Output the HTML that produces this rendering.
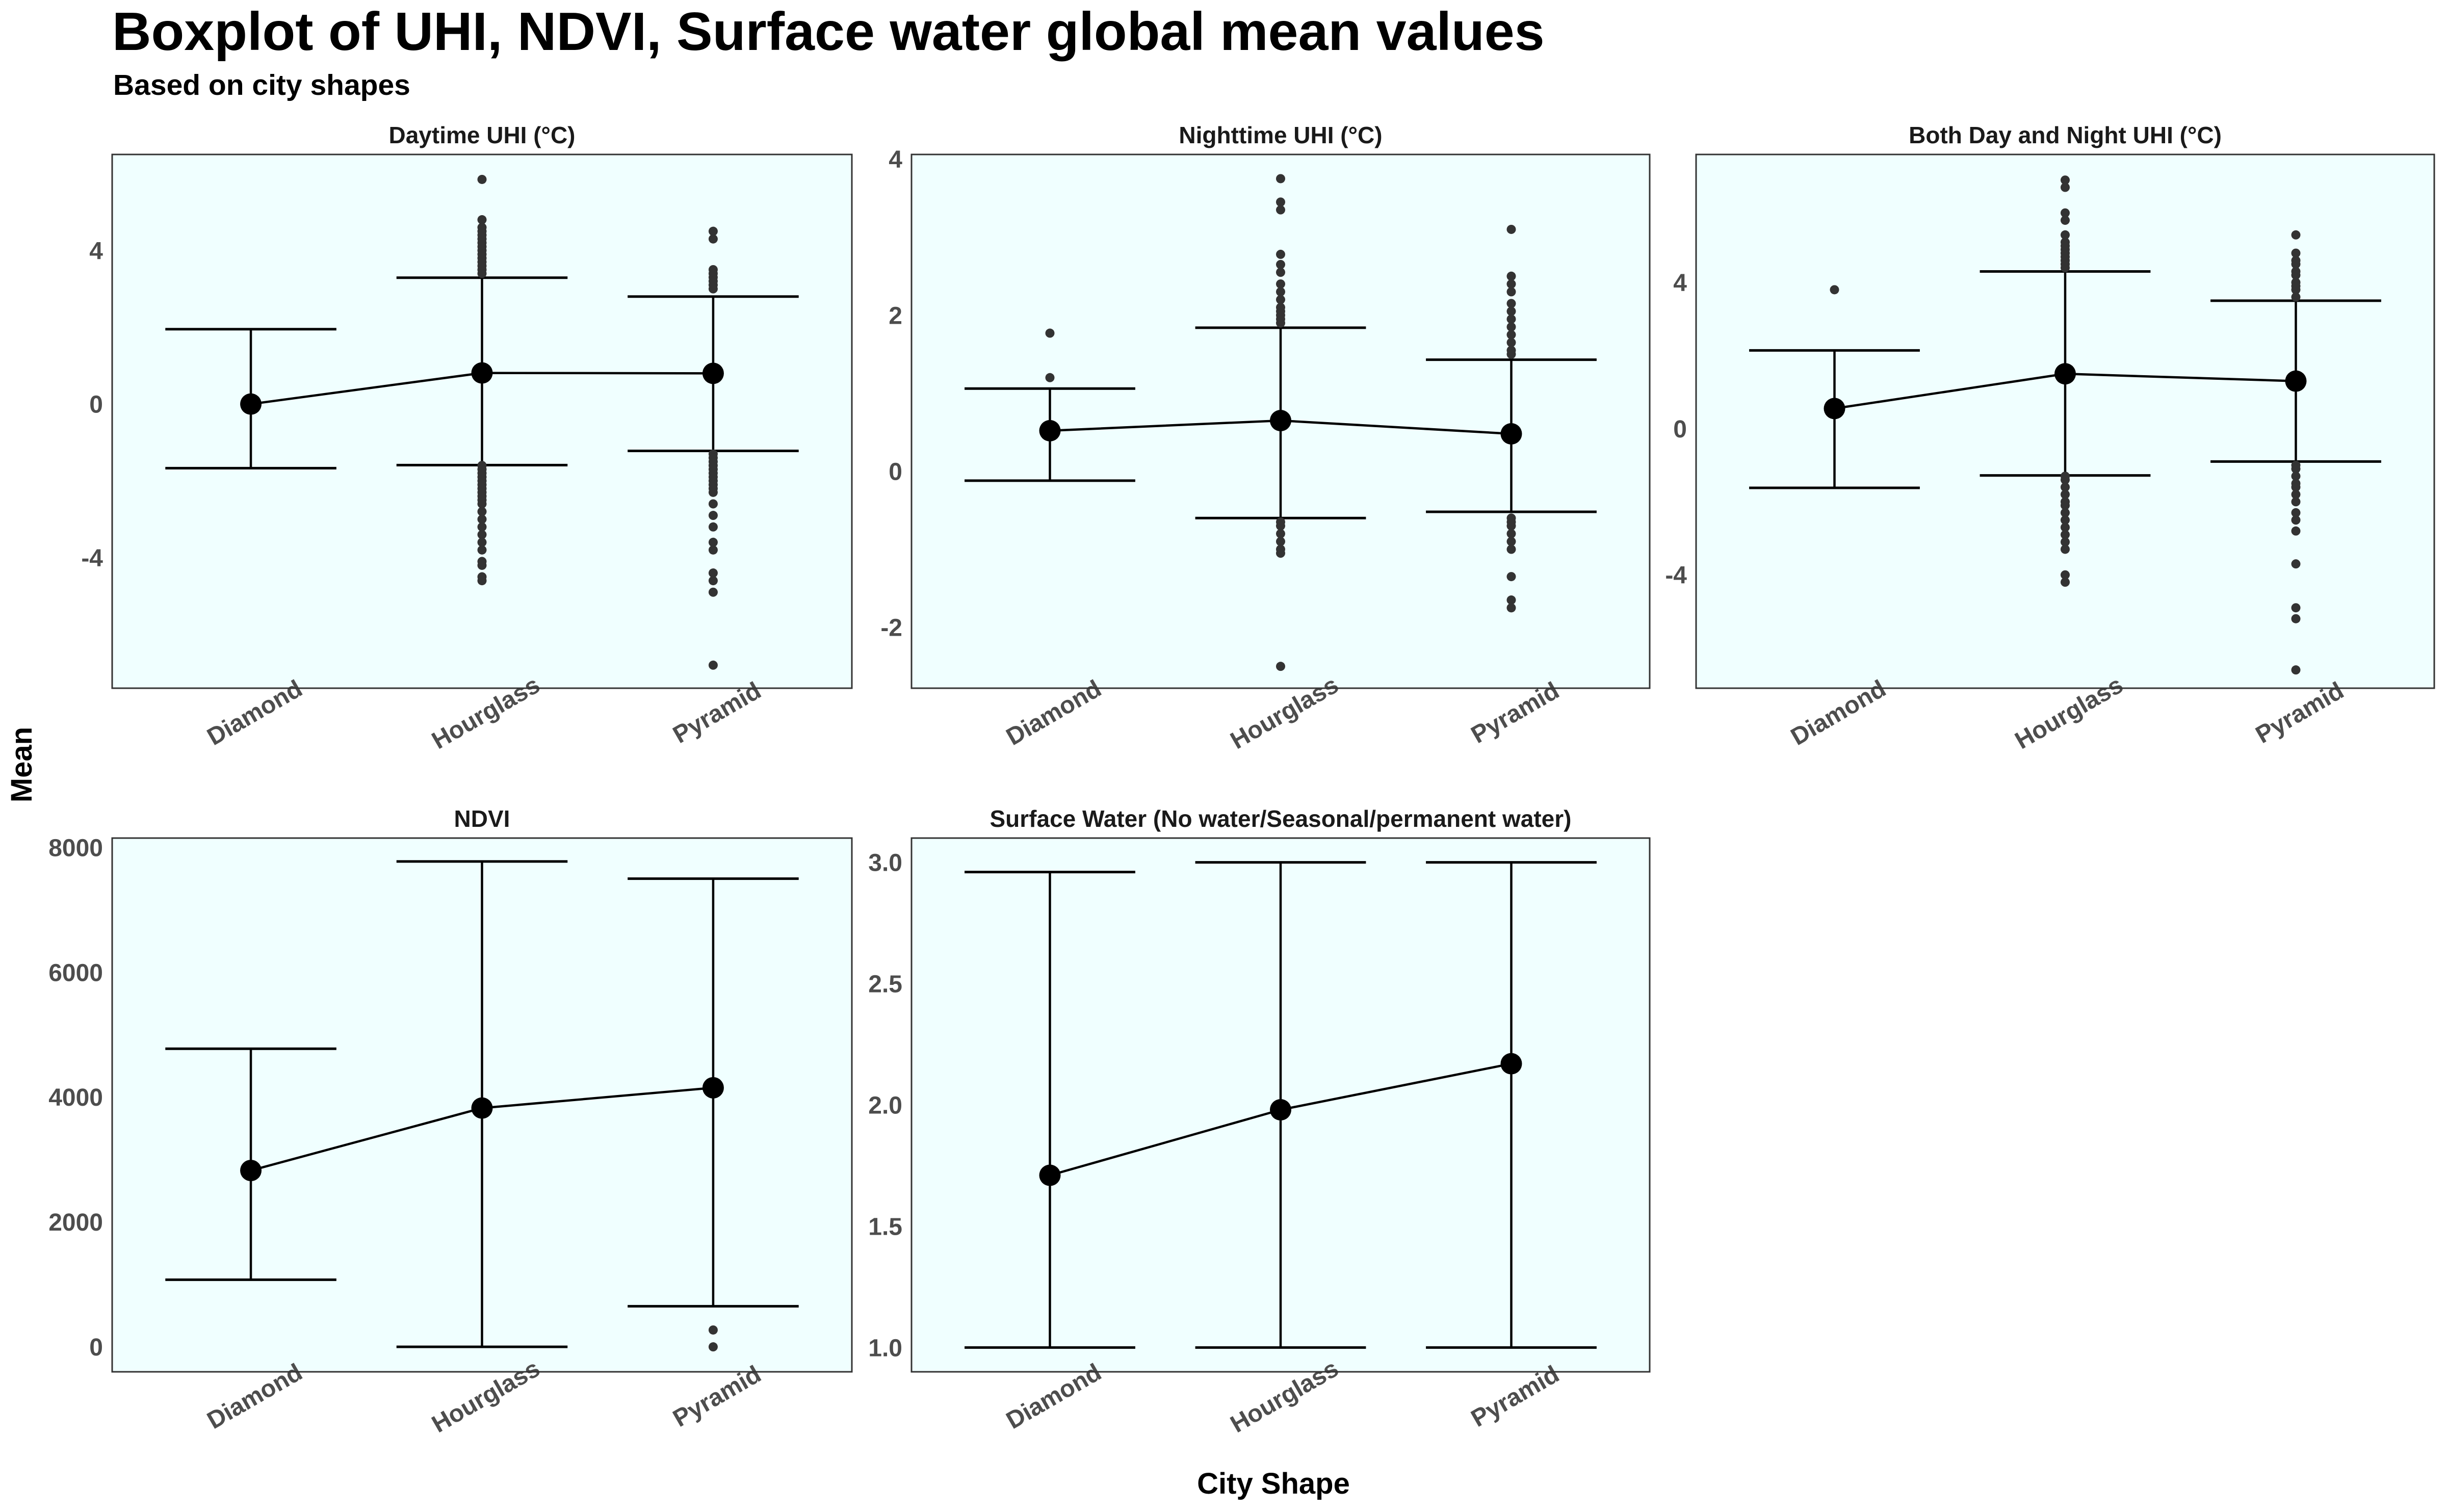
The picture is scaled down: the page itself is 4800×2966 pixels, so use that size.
<!DOCTYPE html>
<html><head><meta charset="utf-8"><style>
html,body{margin:0;padding:0;background:#fff;}
svg{display:block;font-family:"Liberation Sans",Arial,sans-serif;}
</style></head><body>
<svg id="chart" width="4800" height="2966" viewBox="0 0 4800 2966" xmlns="http://www.w3.org/2000/svg">
<text x="220" y="98" font-size="106" font-weight="bold" fill="#000">Boxplot of UHI, NDVI, Surface water global mean values</text>
<text x="222" y="186" font-size="57" font-weight="bold" fill="#000">Based on city shapes</text>
<text transform="translate(62,1500) rotate(-90)" text-anchor="middle" font-size="58" font-weight="bold" fill="#000">Mean</text>
<text x="2498" y="2930" text-anchor="middle" font-size="58" font-weight="bold" fill="#000">City Shape</text>
<g id="panels"></g>
</svg>
<script>
const categories = ["Diamond","Hourglass","Pyramid"];
// Daytime UHI
const dayMean = [0.0, 0.81, 0.80];
const dayUpper = [1.95, 3.29, 2.8];
const dayLower = [-1.67, -1.59, -1.22];
const dayTicks = [-4, 0, 4];
const dayOutD = [];
const dayOutH = [5.85,4.8,4.6,4.5,4.4,4.3,4.2,4.1,4.0,3.9,3.8,3.7,3.6,3.5,3.4,-1.6,-1.7,-1.8,-1.9,-2.0,-2.1,-2.2,-2.3,-2.4,-2.5,-2.6,-2.8,-3.0,-3.2,-3.4,-3.6,-3.8,-4.1,-4.2,-4.5,-4.6];
const dayOutP = [4.5,4.3,3.5,3.4,3.3,3.2,3.1,3.0,-1.3,-1.4,-1.5,-1.6,-1.7,-1.8,-1.9,-2.0,-2.1,-2.2,-2.3,-2.6,-2.9,-3.2,-3.6,-3.8,-4.4,-4.6,-4.9,-6.8];
// Nighttime UHI
const nightMean = [0.52, 0.65, 0.48];
const nightUpper = [1.06, 1.84, 1.43];
const nightLower = [-0.12, -0.6, -0.52];
const nightTicks = [-2, 0, 2, 4];
const nightOutD = [1.77, 1.2];
const nightOutH = [3.75,3.45,3.35,2.78,2.65,2.55,2.4,2.3,2.2,2.1,2.05,2.0,1.95,1.9,-0.65,-0.7,-0.8,-0.9,-1.0,-1.05,-2.5];
const nightOutP = [3.1,2.5,2.4,2.3,2.15,2.05,1.95,1.85,1.75,1.65,1.55,1.5,-0.6,-0.65,-0.7,-0.8,-0.9,-1.0,-1.35,-1.65,-1.75];
// Both day and night
const bothMean = [0.55, 1.5, 1.3];
const bothUpper = [2.14, 4.3, 3.5];
const bothLower = [-1.62, -1.28, -0.9];
const bothTicks = [-4, 0, 4];
const bothOutD = [3.8];
const bothOutH = [6.8,6.6,5.9,5.7,5.3,5.1,5.0,4.9,4.8,4.7,4.6,4.5,4.4,-1.3,-1.4,-1.6,-1.8,-2.0,-2.1,-2.3,-2.5,-2.7,-2.9,-3.1,-3.3,-4.0,-4.2];
const bothOutP = [5.3,4.8,4.6,4.5,4.3,4.2,4.0,3.9,3.8,3.6,-1.0,-1.1,-1.3,-1.5,-1.6,-1.8,-2.0,-2.3,-2.5,-2.8,-3.7,-4.9,-5.2,-6.6];
// NDVI
const ndviMean = [2825, 3825, 4150];
const ndviUpper = [4775, 7775, 7500];
const ndviLower = [1075, 0, 650];
const ndviTicks = [0, 2000, 4000, 6000, 8000];
const ndviOutP = [270, 0];
// Surface water
const waterMean = [1.71, 1.98, 2.17];
const waterUpper = [2.96, 3.0, 3.0];
const waterLower = [1.0, 1.0, 1.0];
const waterTicks = [1.0, 1.5, 2.0, 2.5, 3.0];

const NS = "http://www.w3.org/2000/svg";
const root = document.getElementById("panels");
function mk(tag, attrs, parent){
  const e = document.createElementNS(NS, tag);
  for (const k in attrs) e.setAttribute(k, attrs[k]);
  parent.appendChild(e); return e;
}
function panel(cfg){
  const g = mk("g", {}, root);
  
  
  const {x0,x1,y0,y1,ymin,ymax} = cfg;
  const sx = c => x0 + (x1-x0)*((c+1)-0.4)/3.2;
  const sy = v => y1 - (y1-y0)*(v-ymin)/(ymax-ymin);
  const bg = mk("rect", {x:x0,y:y0,width:x1-x0,height:y1-y0,fill:"#F0FFFF",stroke:"none"}, g);
  
  
  const st = mk("text", {x:(x0+x1)/2, y:y0-22, "text-anchor":"middle","font-size":46,"font-weight":"bold",fill:"#1a1a1a"}, g);
  st.textContent = cfg.title;
  
  
  cfg.ticks.forEach(t => {
    const tx = mk("text", {x:x0-18, y:sy(t)+17, "text-anchor":"end","font-size":48,"font-weight":"bold",fill:"#4d4d4d"}, g);
    tx.textContent = cfg.fmt ? cfg.fmt(t) : String(t);
    
    
  });
  categories.forEach((c,i) => {
    const cx = sx(i)+8, cy = y1+64;
    const tx = mk("text", {x:cx, y:cy, "text-anchor":"middle","font-size":48,"font-weight":"bold",fill:"#4d4d4d",transform:`rotate(-30 ${cx} ${cy-15})`}, g);
    tx.textContent = c;
    
    
  });
  const hw = 0.37*(x1-x0)/3.2;
  for (let i=0;i<3;i++){
    const cx = sx(i);
    const wl = mk("line", {x1:cx,x2:cx,y1:sy(cfg.upper[i]),y2:sy(cfg.lower[i]),stroke:"#000","stroke-width":4.5}, g);
    
    
    [cfg.upper[i], cfg.lower[i]].forEach(v => {
      const cp = mk("line", {x1:cx-hw,x2:cx+hw,y1:sy(v),y2:sy(v),stroke:"#000","stroke-width":5}, g);
      
      
    });
    (cfg.outliers[i]||[]).forEach(v => {
      const p = mk("circle", {cx:cx, cy:sy(v), r:9, fill:"#333"}, g);
      
      
    });
  }
  const pts = cfg.mean.map((v,i)=> sx(i)+","+sy(v)).join(" ");
  const pl = mk("polyline", {points:pts, fill:"none", stroke:"#000","stroke-width":4.5}, g);
  
  
  cfg.mean.forEach((v,i) => {
    const p = mk("circle", {cx:sx(i), cy:sy(v), r:21, fill:"#000"}, g);
    
    
  });
  const br = mk("rect", {x:x0,y:y0,width:x1-x0,height:y1-y0,fill:"none",stroke:"#333","stroke-width":3}, g);
  
  
}
panel({name:"daytime-uhi", title:"Daytime UHI (°C)", x0:220,x1:1671,y0:303,y1:1350,ymin:-7.4,ymax:6.5,
  ticks:dayTicks, mean:dayMean, upper:dayUpper, lower:dayLower, outliers:[dayOutD,dayOutH,dayOutP]});
panel({name:"nighttime-uhi", title:"Nighttime UHI (°C)", x0:1788,x1:3236,y0:303,y1:1350,ymin:-2.78,ymax:4.06,
  ticks:nightTicks, mean:nightMean, upper:nightUpper, lower:nightLower, outliers:[nightOutD,nightOutH,nightOutP]});
panel({name:"both-uhi", title:"Both Day and Night UHI (°C)", x0:3327,x1:4775,y0:303,y1:1350,ymin:-7.1,ymax:7.5,
  ticks:bothTicks, mean:bothMean, upper:bothUpper, lower:bothLower, outliers:[bothOutD,bothOutH,bothOutP]});
panel({name:"ndvi", title:"NDVI", x0:220,x1:1671,y0:1644,y1:2691,ymin:-400,ymax:8150,
  ticks:ndviTicks, mean:ndviMean, upper:ndviUpper, lower:ndviLower, outliers:[[],[],ndviOutP]});
panel({name:"surface-water", title:"Surface Water (No water/Seasonal/permanent water)", x0:1788,x1:3236,y0:1644,y1:2691,ymin:0.9,ymax:3.1,
  ticks:waterTicks, fmt:t=>t.toFixed(1), mean:waterMean, upper:waterUpper, lower:waterLower, outliers:[[],[],[]]});
</script>
</body></html>
